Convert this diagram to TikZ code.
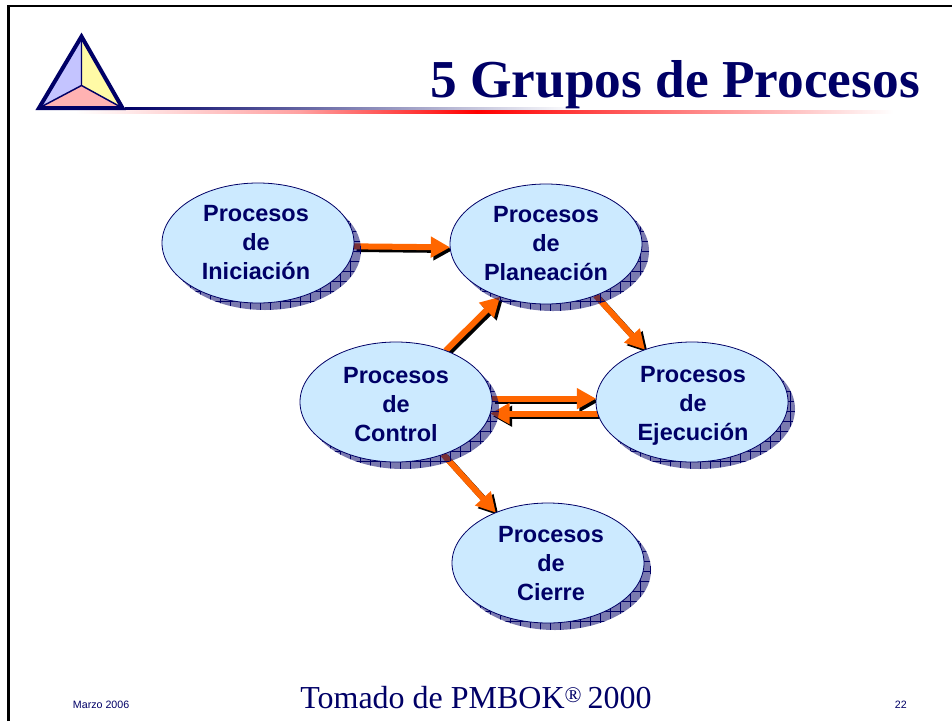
\documentclass[tikz,border=0pt]{standalone}
\usepackage{fontspec}
\setmainfont{Liberation Serif}
\setsansfont{Liberation Sans}
\usetikzlibrary{shapes.geometric,arrows.meta,patterns.meta}
\definecolor{azul}{HTML}{000066}
\definecolor{celeste}{HTML}{CCEAFF}
\definecolor{naranja}{HTML}{FF6600}
\pgfdeclarelayer{flechas}
\pgfdeclarelayer{sombras}
\pgfsetlayers{flechas,sombras,main}

\begin{document}
\begin{tikzpicture}[x=0.75pt, y=-0.75pt,
  proceso/.style={ellipse, draw=azul, line width=0.6pt, fill=celeste,
    minimum width=144pt, minimum height=90pt, inner sep=0pt, outer sep=0pt},
  etiqueta/.style={text=azul, align=center, inner sep=0pt,
    font=\sffamily\bfseries\fontsize{17.6}{21.75}\selectfont},
  sombra/.style={ellipse, minimum width=144pt, minimum height=90pt, inner sep=0pt, outer sep=0pt,
    preaction={fill=azul, fill opacity=0.52},
    pattern={Hatch[distance=7.5pt, line width=0.25pt]}, pattern color=azul},
  flecha/.style={draw=naranja, line width=4.5pt, -{Triangle[length=14.5pt, width=15pt, fill=naranja]}},
  flechanegra/.style={draw=black, line width=4.5pt, -{Triangle[length=14.5pt, width=15pt, fill=black]},
    transform canvas={shift={(2pt,-2pt)}}},
  pie/.style={text=azul, inner sep=0pt, font=\sffamily\fontsize{8}{10}\selectfont}]
  \useasboundingbox (0,0) rectangle (952,721);

  % marco y logo
  \draw[black, line width=2pt] (8.5,721) -- (8.5,6) -- (952,6);
  \fill[left color=azul, right color=white] (125,107) rectangle (576,110.7);
  \fill[left color=white, right color=red!37] (75,110.7) rectangle (300,113.8);
  \fill[left color=red!37, right color=red] (300,110.7) rectangle (477,113.8);
  \fill[left color=red, right color=white] (477,110.7) rectangle (893,113.8);
  \fill[blue!23] (81.5,36.5) -- (81.5,85.5) -- (39,108) -- cycle;
  \fill[yellow!35] (81.5,36.5) -- (81.5,85.5) -- (122.5,108) -- cycle;
  \fill[red!30] (39,108) -- (81.5,85.5) -- (122.5,108) -- cycle;
  \draw[azul, line width=1.1pt] (81.5,36.5) -- (81.5,85.5) (39,108) -- (81.5,85.5) -- (122.5,108);
  \draw[azul, line width=3pt, miter limit=10] (81.5,36.5) -- (122.5,108) -- (39,108) -- cycle;

  \node[anchor=base east, inner sep=0pt, text=azul, font=\bfseries\fontsize{40}{48}\selectfont] (titulo) at (920,97.5) {5 Grupos de Procesos};

  % procesos
  \node[proceso, label={[etiqueta, xshift=-1.5pt]center:Procesos\\de\\Iniciación}] (ini) at (258,243) {};
  \node[proceso, label={[etiqueta]center:Procesos\\de\\Planeación}] (plan) at (546,244) {};
  \node[proceso, label={[etiqueta, yshift=-2.25pt]center:Procesos\\de\\Control}] (ctrl) at (396,402) {};
  \node[proceso, label={[etiqueta, xshift=0.75pt, yshift=-3pt]center:Procesos\\de\\Ejecución}] (ejec) at (692,402) {};
  \node[proceso, label={[etiqueta, xshift=2.25pt, yshift=-0.75pt]center:Procesos\\de\\Cierre}] (cierre) at (548,563) {};

  \begin{pgfonlayer}{sombras}
    \node[sombra] (sini) at (265,250) {};
    \node[sombra] (splan) at (553,251) {};
    \node[sombra] (sctrl) at (403,409) {};
    \node[sombra] (sejec) at (699,409) {};
    \node[sombra] (scierre) at (555,570) {};
  \end{pgfonlayer}

  \begin{pgfonlayer}{flechas}
    \foreach \desde/\hasta in {ini.-2.4/plan.182, ctrl.46.7/plan.229.7, plan.314.5/ejec.132.7,
      ctrl.2/ejec.178, ejec.187.8/ctrl.-7.6, ctrl.-48/cierre.136.6} {
      \draw[flechanegra] (\desde) -- (\hasta);
      \draw[flecha] (\desde) -- (\hasta);
    }
  \end{pgfonlayer}

  \node[anchor=base, inner sep=0pt, text=azul, font=\fontsize{24}{28}\selectfont] (fuente) at (476,708) {Tomado de PMBOK\raisebox{-5pt}{\textsuperscript{®}}\,2000};
  \node[pie, anchor=base west] (fecha) at (72.7,708) {Marzo 2006};
  \node[pie, anchor=base east] (pagina) at (907,708) {22};
\end{tikzpicture}
\end{document}
